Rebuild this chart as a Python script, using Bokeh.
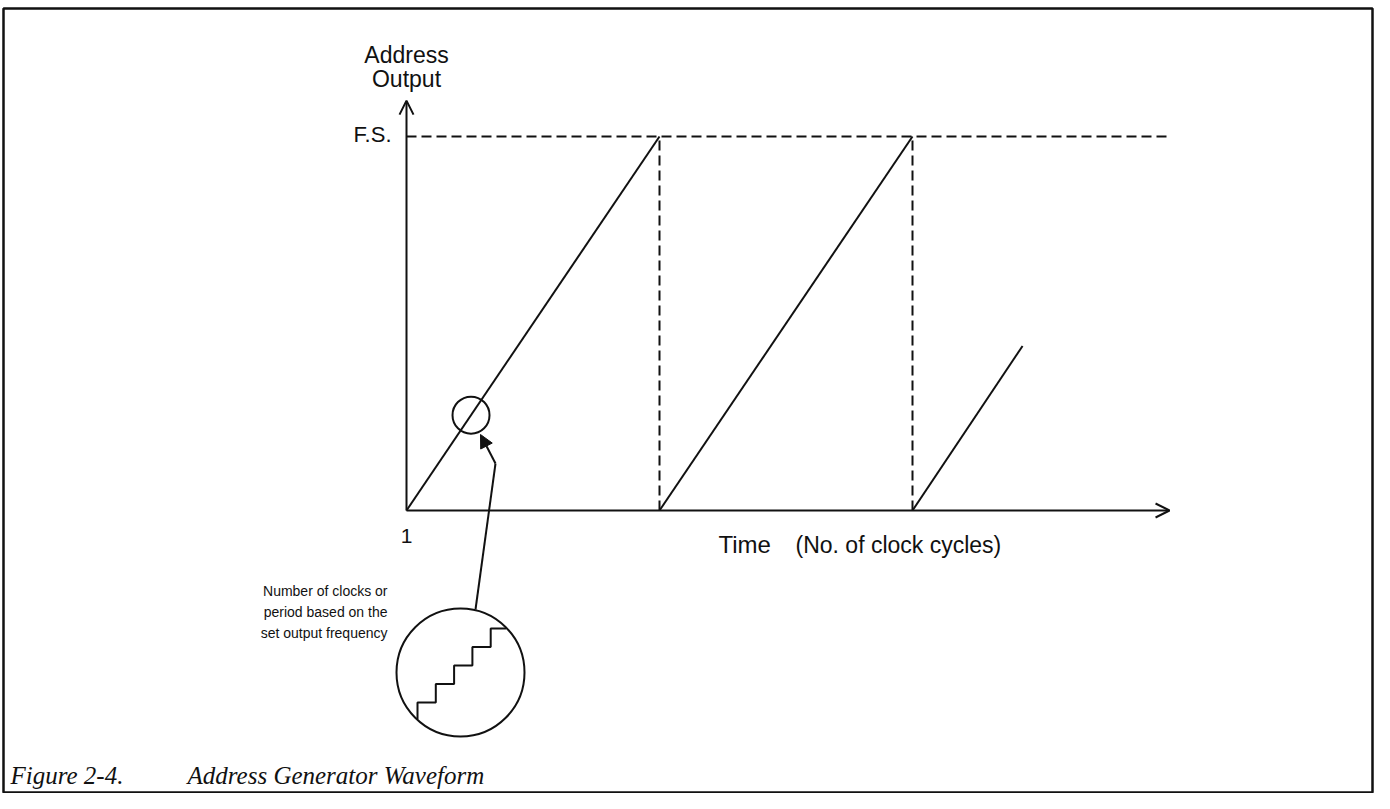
import numpy as np
from bokeh.plotting import figure
from bokeh.models import Range1d, Label, Arrow, OpenHead, NormalHead
from bokeh.embed import file_html
from bokeh.resources import INLINE

# ---------------- data (time in ramp periods, address as fraction of full scale) ----
ramp_start = [0.0, 1.0, 2.0]          # clock-cycle time where each ramp begins
ramp_end = [1.0, 2.0, 2.435]          # time where each ramp stops
ramp_peak = [1.0, 1.0, 0.44]          # address output reached (F.S. = 1)
reset_times = [1.0, 2.0]              # dashed reset lines
full_scale = 1.0
x_axis_end = 3.016
y_axis_end = 1.096
fs_line_end = 3.016
zoom_point_t = 0.255                  # spot on first ramp that is magnified
stair_clocks = [0, 1, 2, 3, 4]        # clocks inside the magnifier
stair_counts = [1, 2, 3, 4, 5]        # address counts inside the magnifier
x_tick_label = "1"
y_tick_label = "F.S."
y_title = ["Address", "Output"]
x_title = ["Time", "(No. of clock cycles)"]
note_lines = ["Number of clocks or", "period based on the", "set output frequency"]
caption_num = "Figure 2-4."
caption_txt = "Address Generator Waveform"

# ---------------- layout (picture pixels -> data) ----------------
W, H = 1374, 793
ORIGIN = (406, 510)
UNIT_X, UNIT_Y = 253.0, 374.0


def dx(px):
    return (px - ORIGIN[0]) / UNIT_X


def dy(py):
    return (ORIGIN[1] - py) / UNIT_Y


p = figure(width=W, height=H,
           x_range=Range1d(dx(0), dx(W)),
           y_range=Range1d(dy(H), dy(0)),
           output_backend="svg", toolbar_location=None,
           x_axis_location=None, y_axis_location=None,
           min_border=0, background_fill_color="white", border_fill_color="white")
p.outline_line_color = None
p.grid.visible = False

INK = "#111111"
SANS = "Liberation Sans"
SERIF = "Liberation Serif"

# outer frame
p.quad(left=[dx(3)], right=[dx(1372)], top=[dy(8)], bottom=[dy(792)],
       fill_color=None, line_color=INK, line_width=2.5)

# axes with open arrow heads
p.add_layout(Arrow(end=OpenHead(size=14, line_width=2, line_color=INK),
                   x_start=0, y_start=0, x_end=x_axis_end, y_end=0,
                   line_width=2, line_color=INK))
p.add_layout(Arrow(end=OpenHead(size=14, line_width=2, line_color=INK),
                   x_start=0, y_start=0, x_end=0, y_end=y_axis_end,
                   line_width=2, line_color=INK))

# full-scale dashed line and reset dashed lines
p.line([0, fs_line_end], [full_scale, full_scale], line_dash="10 5",
       line_width=2, line_color=INK)
p.segment(x0=reset_times, y0=[0] * len(reset_times), x1=reset_times,
          y1=[full_scale] * len(reset_times), line_dash="10 5",
          line_width=2, line_color=INK)

# sawtooth ramps
p.segment(x0=ramp_start, y0=[0] * len(ramp_start), x1=ramp_end, y1=ramp_peak,
          line_width=2, line_color=INK)

# small circle on the ramp
p.scatter([zoom_point_t], [zoom_point_t * full_scale], marker="circle", size=37,
          fill_color=None, line_color=INK, line_width=2)

# magnifier circle
CX, CY, R = 460.0, 672.0, 64.0
p.scatter([dx(CX)], [dy(CY)], marker="circle", size=2 * R,
          fill_color=None, line_color=INK, line_width=2)

# staircase inside the magnifier, clipped to the circle
OX, OY = 417.0, 720.5
SX, SY = 18.3, 18.5
xs, ys = [], []
x0 = OX + SX * stair_clocks[0]
xs.append(x0)
ys.append(CY + np.sqrt(R ** 2 - (x0 - CX) ** 2) - 1)
for i, (c, n) in enumerate(zip(stair_clocks, stair_counts)):
    x = OX + SX * c
    y = OY - SY * n
    xs.append(x)
    ys.append(y)
    if i + 1 < len(stair_clocks):
        xn = OX + SX * stair_clocks[i + 1]
    else:
        xn = CX + np.sqrt(R ** 2 - (y - CY) ** 2) - 1
    xs.append(xn)
    ys.append(y)
p.line([dx(v) for v in xs], [dy(v) for v in ys], line_width=2, line_color=INK)

# leader line with arrow from magnifier to small circle
lead_x = [475, 495]
lead_y = [609, 463]
p.line([dx(v) for v in lead_x], [dy(v) for v in lead_y], line_width=2, line_color=INK)
p.add_layout(Arrow(end=NormalHead(size=13, fill_color=INK, line_color=INK, line_width=1),
                   x_start=dx(495), y_start=dy(463), x_end=dx(480), y_end=dy(434),
                   line_width=2, line_color=INK))


# texts: positioned by the vertical middle of the text
def lab(text, x, y_mid_px, size, align="left", font=SANS, style="normal"):
    p.add_layout(Label(x=x, y=dy(y_mid_px), text=text, text_font=font,
                       text_font_size=f"{size}px", text_align=align,
                       text_baseline="middle", text_color=INK,
                       text_font_style=style))


lab(y_title[0], 0, 54, 23, align="center")
lab(y_title[1], 0, 78, 23, align="center")
lab(y_tick_label, dx(391), 134, 22, align="right")
lab(x_tick_label, 0, 535, 21, align="center")
lab(x_title[0], dx(718), 544, 24)
lab(x_title[1], dx(795), 544, 23)
for i, t in enumerate(note_lines):
    lab(t, dx(387), 590 + 21 * i, 14, align="right")
lab(caption_num, dx(10), 775, 25, font=SERIF, style="italic")
lab(caption_txt, dx(187), 775, 25, font=SERIF, style="italic")

open("out.html", "w").write(file_html(p, INLINE))
